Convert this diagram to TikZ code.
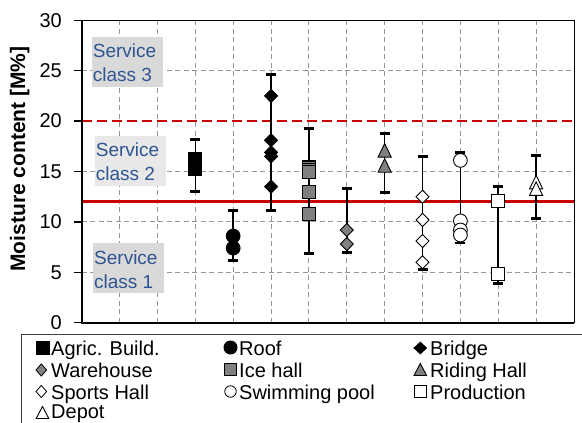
\documentclass[tikz,border=0pt]{standalone}
\usepackage{fontspec}
\setmainfont{Liberation Sans}
\usetikzlibrary{shapes.geometric}
\definecolor{redline}{RGB}{200,0,0}
\definecolor{svcblue}{RGB}{47,85,145}
\definecolor{boxgray}{RGB}{217,217,217}
\definecolor{boxgraylt}{RGB}{232,232,232}
\definecolor{gridgray}{RGB}{150,150,150}
\definecolor{mgray}{RGB}{128,128,128}
\tikzset{
  gridline/.style={draw=gridgray, line width=1pt, dash pattern=on 5pt off 3.5pt},
  redsolid/.style={draw=redline, line width=2.6pt},
  reddash/.style={draw=redline, line width=2.6pt, dash pattern=on 10pt off 5pt},
  ebline/.style={draw=black, line width=1.6pt},
  ebcap/.style={draw=black, line width=2.8pt},
  msq/.style={rectangle, draw=black, line width=0.9pt, inner sep=0pt, minimum size=12.8pt},
  mcirc/.style={circle, draw=black, line width=0.9pt, inner sep=0pt, minimum size=13.8pt},
  mdia/.style={diamond, draw=black, line width=0.9pt, inner sep=0pt, minimum width=13.3pt, minimum height=13.5pt},
  mtriline/.style={draw=black, line width=0.9pt},
  svcbox/.style={fill=boxgray, draw=none},
  svctext/.style={text=svcblue, font=\fontsize{19}{22}\selectfont, anchor=base west, inner sep=0pt},
  ticklabel/.style={anchor=east, inner sep=0pt, font=\fontsize{20}{24}\selectfont},
  legtext/.style={anchor=base west, inner sep=0pt, font=\fontsize{20}{24}\selectfont},
}
\newcommand{\ebar}[3]{%
  \draw[ebline] (#1,#2) -- (#1,#3);
  \draw[ebcap] ([xshift=-5pt]#1,#2) -- ([xshift=5pt]#1,#2);
  \draw[ebcap] ([xshift=-5pt]#1,#3) -- ([xshift=5pt]#1,#3);}
\newcommand{\mtri}[5]{% x, y, fill, half width, half height
  \draw[mtriline, fill=#3] ([yshift=#5]#1,#2) -- ([shift={(-#4,-#5)}]#1,#2) -- ([shift={(#4,-#5)}]#1,#2) -- cycle;}
\begin{document}
\begin{tikzpicture}[x=1pt, y=-1pt]
\useasboundingbox (0,0) rectangle (582,423);
\fill[white] (0,0) rectangle (582,423);

% grid
\begin{scope}[shift={(81.7,322.7)}, x=37.87pt, y=10.08pt]
  \foreach \i in {1,...,12} \draw[gridline] (\i,0) -- (\i,30);
  \foreach \v in {5,10,15,25} \draw[gridline] (0,\v) -- (13,\v);
\end{scope}

% service class boxes
\fill[svcbox] (91.7,36.7) rectangle (162.7,86.7);
\node[svctext] (s3a) at (92.7,57) {Service};
\node[svctext] (s3b) at (92.7,81.5) {class 3};
\fill[boxgraylt] (95,136) rectangle (165.7,185.7);
\node[svctext] (s2a) at (95.7,156) {Service};
\node[svctext] (s2b) at (95.7,180.5) {class 2};
\fill[svcbox] (92.7,242.7) rectangle (164,293.3);
\node[svctext] (s1a) at (94,264) {Service};
\node[svctext] (s1b) at (94,288.5) {class 1};

% data
\begin{scope}[shift={(81.7,322.7)}, x=37.87pt, y=10.08pt]
  \draw[reddash] (0,20) -- (13,20);
  \draw[redsolid] (0,12) -- (13,12);
  % Agric. Build.
  \ebar{3}{13.0}{18.2}
  \foreach \v [count=\k] in {16.3,15.8,15.2} \node[msq, fill=black] (agr\k) at (3,\v) {};
  % Roof
  \ebar{4}{6.2}{11.1}
  \foreach \v [count=\k] in {8.6,7.4} \node[mcirc, fill=black] (roof\k) at (4,\v) {};
  % Bridge
  \ebar{5}{11.1}{24.6}
  \foreach \v [count=\k] in {22.5,18.1,16.9,16.5,13.5} \node[mdia, fill=black] (brg\k) at (5,\v) {};
  % Ice hall
  \ebar{6}{6.9}{19.3}
  \foreach \v [count=\k] in {15.5,15.35,15.2,14.95,13.0,10.8} \node[msq, fill=mgray] (ice\k) at (6,\v) {};
  % Warehouse
  \ebar{7}{7.0}{13.3}
  \foreach \v [count=\k] in {9.2,7.8} \node[mdia, fill=mgray] (wh\k) at (7,\v) {};
  % Riding Hall
  \ebar{8}{12.9}{18.8}
  \mtri{8}{17.1}{mgray}{6.6pt}{6.8pt}
  \mtri{8}{15.6}{mgray}{6.6pt}{6.8pt}
  % Sports Hall
  \ebar{9}{5.3}{16.5}
  \foreach \v [count=\k] in {12.5,10.2,8.1,6.0} \node[mdia, fill=white] (sp\k) at (9,\v) {};
  % Swimming pool
  \ebar{10}{7.9}{16.9}
  \foreach \v [count=\k] in {16.1,10.1,9.2,8.7} \node[mcirc, fill=white] (sw\k) at (10,\v) {};
  % Production
  \ebar{11}{3.9}{13.5}
  \foreach \v [count=\k] in {12.1,4.8} \node[msq, fill=white] (pr\k) at (11,\v) {};
  % Depot
  \ebar{12}{10.3}{16.6}
  \mtri{12}{13.95}{white}{6.6pt}{6.8pt}
  \mtri{12}{13.3}{white}{6.6pt}{6.8pt}
\end{scope}

% frame and axes
\draw[black, line width=1pt] (81.7,20.3) -- (574,20.3) -- (574,322.7);
\draw[black, line width=2pt] (81.7,20.3) -- (81.7,322.7) -- (574,322.7);
\foreach \v in {0,5,...,30} {
  \draw[black, line width=1.3pt] (74,{322.7-10.08*\v}) -- (81.7,{322.7-10.08*\v});
  \node[ticklabel] (t\v) at (62,{322.7-10.08*\v}) {\v};
}
\node[rotate=90, anchor=base, inner sep=0pt, font=\bfseries\fontsize{21}{24}\selectfont] (ylab) at (25,159) {Moisture content [M\%]};

% legend
\draw[black!75, line width=1pt] (21,430) -- (21,334) -- (590,334);
\node[rectangle, fill=black, inner sep=0pt, minimum size=14pt] (lg1) at (42.5,348) {};
\node[legtext] (lt1) at (51,355) {Agric. Build.};
\node[circle, fill=black, inner sep=0pt, minimum size=14pt] (lg2) at (230.5,347.5) {};
\node[legtext] (lt2) at (239,355) {Roof};
\node[diamond, fill=black, inner sep=0pt, minimum width=14pt, minimum height=13pt] (lg3) at (420.3,348) {};
\node[legtext] (lt3) at (430,355) {Bridge};
\node[diamond, draw=black, line width=0.8pt, fill=mgray, inner sep=0pt, minimum width=11pt, minimum height=12.5pt] (lg4) at (41.3,370) {};
\node[legtext] (lt4) at (51,377) {Warehouse};
\node[rectangle, draw=black, line width=0.8pt, fill=mgray, inner sep=0pt, minimum size=12.5pt] (lg5) at (230.5,369.5) {};
\node[legtext] (lt5) at (239,377) {Ice hall};
\mtri{420.3}{369.5}{mgray}{6.3pt}{6pt}
\node[legtext] (lt6) at (430,377) {Riding Hall};
\node[diamond, draw=black, line width=0.8pt, fill=white, inner sep=0pt, minimum width=11pt, minimum height=12.5pt] (lg7) at (41.3,391.5) {};
\node[legtext] (lt7) at (51,399) {Sports Hall};
\node[circle, draw=black, line width=0.8pt, fill=white, inner sep=0pt, minimum size=11.5pt] (lg8) at (230.5,391.5) {};
\node[legtext] (lt8) at (239,399) {Swimming pool};
\node[rectangle, draw=black, line width=0.8pt, fill=white, inner sep=0pt, minimum size=12pt] (lg9) at (420.3,391.5) {};
\node[legtext] (lt9) at (430,399) {Production};
\mtri{42.5}{412.5}{white}{6.3pt}{6pt}
\node[legtext] (lt10) at (51,418.5) {Depot};
\end{tikzpicture}
\end{document}
